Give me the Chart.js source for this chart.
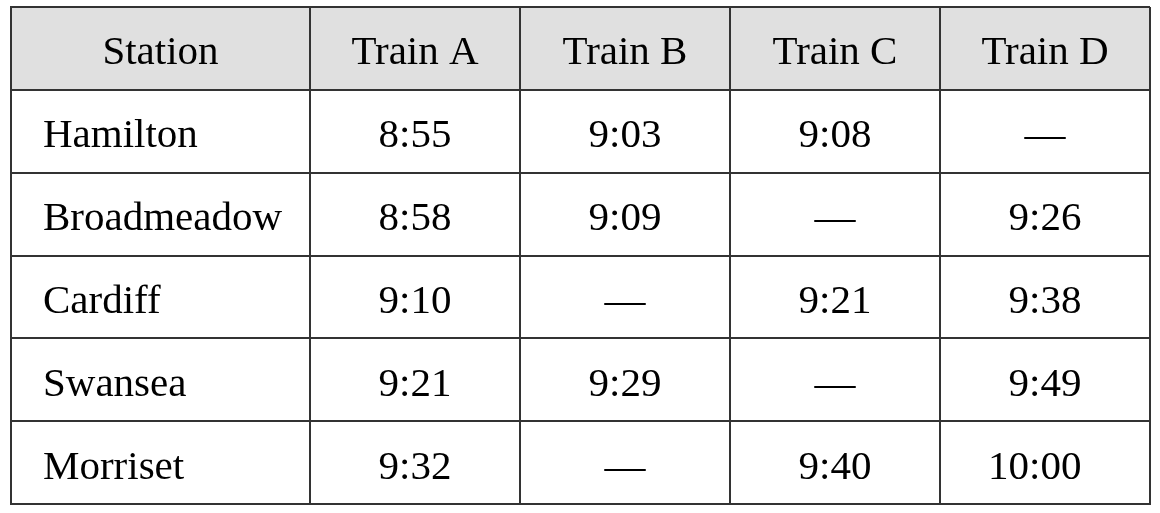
<!DOCTYPE html>
<html>
<head>
<meta charset="utf-8">
<script src="https://cdn.jsdelivr.net/npm/chart.js@4/dist/chart.umd.min.js"></script>
<style>
  html, body { margin: 0; padding: 0; background: #fff; }
  #wrap { width: 1160px; height: 513px; }
</style>
</head>
<body>
<div id="wrap"><canvas id="table"></canvas></div>
<script>
// table data
const headerStation = "Station";
const trains = ["Train A", "Train B", "Train C", "Train D"];
const stations = ["Hamilton", "Broadmeadow", "Cardiff", "Swansea", "Morriset"];
const trainA = ["8:55", "8:58", "9:10", "9:21", "9:32"];
const trainB = ["9:03", "9:09", null, "9:29", null];
const trainC = ["9:08", null, "9:21", null, "9:40"];
const trainD = [null, "9:26", "9:38", "9:49", "10:00"];
const times = [trainA, trainB, trainC, trainD];

// column edges in table units (first column is wider)
const colEdges = [0, 299, 509, 719, 929, 1139];
const rowLabels = [headerStation].concat(stations);

const FONT = '"Liberation Serif", "Times New Roman", serif';
const LINE = "#333333";

const cellText = {
  id: "cellText",
  afterDatasetsDraw(chart) {
    const ctx = chart.ctx;
    const x = chart.scales.x, y = chart.scales.y;
    const colMid = i => x.getPixelForValue((colEdges[i] + colEdges[i + 1]) / 2);
    ctx.save();
    ctx.fillStyle = "#000";
    ctx.font = "41px " + FONT;
    ctx.textBaseline = "alphabetic";
    const base = r => y.getPixelForValue(r) + 16;

    // header row
    ctx.textAlign = "center";
    ctx.fillText(headerStation, colMid(0), base(0));
    trains.forEach((t, i) => ctx.fillText(t, colMid(i + 1), base(0)));

    // station names
    ctx.textAlign = "left";
    stations.forEach((s, r) => ctx.fillText(s, x.getPixelForValue(colEdges[0]) + 32, base(r + 1)));

    // times
    const half = ctx.measureText("9:26").width / 2;
    times.forEach((col, c) => {
      col.forEach((v, r) => {
        if (v === null) {
          ctx.textAlign = "center";
          ctx.fillText("\u2014", colMid(c + 1), base(r + 1));
        } else {
          ctx.textAlign = "right";
          ctx.fillText(v, colMid(c + 1) + half, base(r + 1));
        }
      });
    });
    ctx.restore();
  }
};

new Chart(document.getElementById("table"), {
  type: "bar",
  data: {
    labels: rowLabels,
    datasets: [{
      // grey header band
      data: rowLabels.map((l, i) => i === 0 ? [colEdges[0], colEdges[colEdges.length - 1]] : null),
      backgroundColor: "#e0e0e0",
      borderWidth: 0,
      barPercentage: 1,
      categoryPercentage: 1
    }]
  },
  options: {
    indexAxis: "y",
    responsive: true,
    maintainAspectRatio: false,
    animation: false,
    layout: { padding: { left: 11, top: 7, right: 10, bottom: 9 } },
    plugins: { legend: { display: false }, tooltip: { enabled: false } },
    scales: {
      x: {
        type: "linear",
        min: colEdges[0],
        max: colEdges[colEdges.length - 1],
        afterBuildTicks: axis => { axis.ticks = colEdges.map(v => ({ value: v })); },
        ticks: { display: false },
        grid: { color: LINE, lineWidth: 2, drawTicks: false, z: 1 },
        border: { display: true, color: LINE, width: 2, z: 1 }
      },
      y: {
        type: "category",
        offset: true,
        ticks: { display: false },
        grid: { offset: true, color: LINE, lineWidth: 2, drawTicks: false, z: 1 },
        border: { display: true, color: LINE, width: 2, z: 1 }
      }
    }
  },
  plugins: [cellText]
});
</script>
</body>
</html>
